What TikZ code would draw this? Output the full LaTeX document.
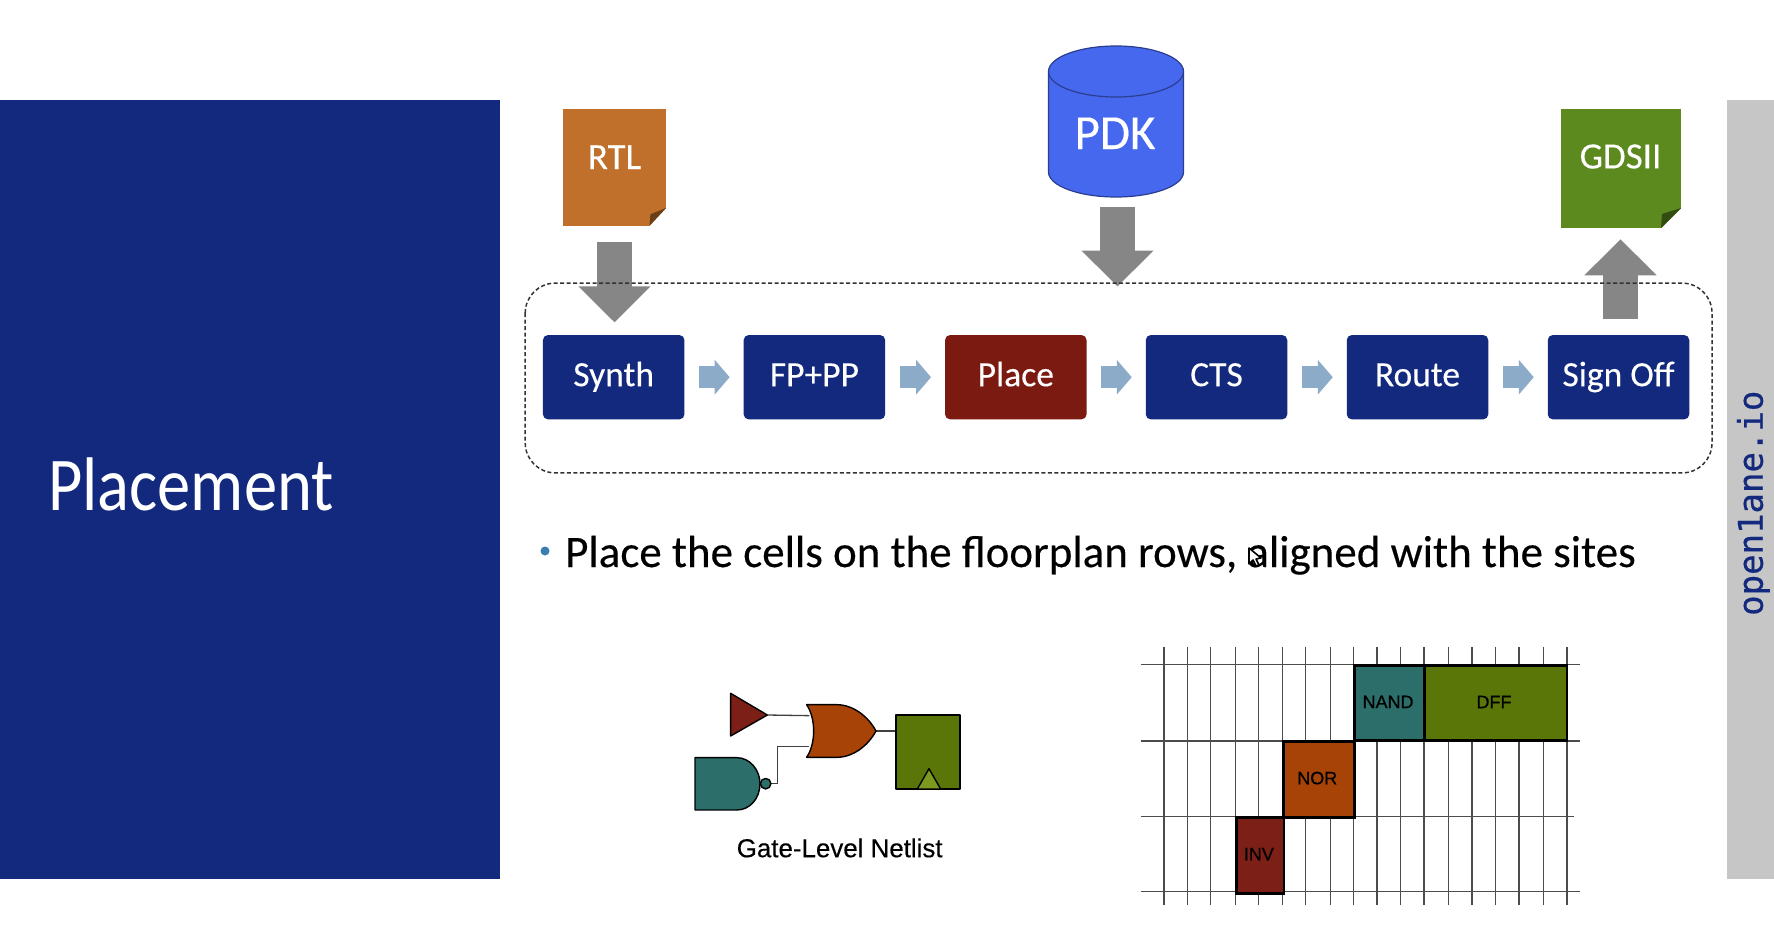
\documentclass[tikz,border=0pt]{standalone}
\usepackage{fontspec}
\setmainfont[FakeBold=0.25]{Carlito}
\newfontfamily\titlefam{Carlito}
\newfontfamily\arialfam[FakeBold=0.35]{Liberation Sans}
\newfontfamily\cellfam[FakeBold=0.7]{Liberation Sans}
\newfontfamily\monofam[FakeBold=0.6]{DejaVu Sans Mono}
\usetikzlibrary{arrows.meta}
\definecolor{navy}{HTML}{12297D}
\definecolor{placered}{HTML}{7A1A10}
\definecolor{rtlc}{HTML}{C0702A}
\definecolor{pdkc}{HTML}{4668EE}
\definecolor{gdsc}{HTML}{5C8A1E}
\definecolor{grayarrow}{HTML}{868686}
\definecolor{smallarrow}{HTML}{8CABC8}
\definecolor{barc}{HTML}{C6C6C6}
\definecolor{orc}{HTML}{A84308}
\definecolor{tealc}{HTML}{2B6E6A}
\definecolor{dffc}{HTML}{5A7508}
\definecolor{clkc}{HTML}{7B9A1E}
\definecolor{invc}{HTML}{7C1F16}
\definecolor{bulletc}{HTML}{3A7DB0}
\newcommand{\fsz}[1]{\fontsize{#1pt}{#1pt}\selectfont}
\tikzset{
  x=1pt,y=-1pt,
  stage/.style={rounded corners=5pt,fill=navy,text=white,minimum width=141.5pt,minimum height=84.3pt,inner sep=0pt,font=\fsz{35.5},text height=24pt,text depth=6pt},
  doc/.style={inner sep=0pt,text=white,font=\fsz{37},text height=24pt},
  bigarrow/.style={draw=grayarrow,line width=35pt,-{Triangle[length=36pt,width=70pt,fill=grayarrow]}},
  flowarrow/.style={draw=smallarrow,line width=22pt,-{Triangle[length=15pt,width=34pt,fill=smallarrow]},shorten <=14.6pt,shorten >=13.8pt},
  gate/.style={draw=black,line width=1.4pt,line join=round},
  wire/.style={draw=black!75,line width=1.3pt},
  celltext/.style={inner sep=0pt,font=\cellfam\fsz{18},text=black},
  cellbox/.style={draw=black,line width=2.8pt,inner sep=0pt},
  gridline/.style={draw=black!70,line width=1.6pt},
}
\begin{document}
\begin{tikzpicture}
\useasboundingbox (0,0) rectangle (1774,929);
\fill[white] (0,0) rectangle (1774,929);
% side panels
\node[fill=navy,minimum width=500pt,minimum height=779pt,inner sep=0pt,anchor=north west] (panel) at (0,100) {};
\node[fill=barc,minimum width=47pt,minimum height=779pt,inner sep=0pt,anchor=north west] (bar) at (1727,100) {};
\node[anchor=base west,inner sep=0pt,text=white,font=\titlefam\fsz{76}] (title) at (48,510) {\scalebox{0.875}[1]{Placement}};
\node[anchor=base west,rotate=90,inner sep=0pt,text=navy,font=\monofam\fsz{34}] (brand) at (1762.7,616) {open1ane.io};
% flow stages
\node[stage] (synth) at (613.7,377.2) {Synth};
\node[stage] (fp) at (814.4,377.2) {FP+PP};
\node[stage,fill=placered] (place) at (1015.8,377.2) {Place};
\node[stage] (cts) at (1216.5,377.2) {CTS};
\node[stage] (route) at (1417.5,377.2) {Route};
\node[stage] (signoff) at (1618.5,377.2) {Sign Off};
\node[inner sep=0pt,minimum width=1186.4pt,minimum height=189.4pt] (flow) at (1118.6,378) {};
% documents
\node[doc,fill=rtlc,minimum width=103pt,minimum height=117pt,text depth=20.4pt] (rtl) at (614.5,167.2) {RTL};
\fill[white] (666.5,208) -- (666.5,226.2) -- (649.5,226.2) -- cycle;
\fill[rtlc!55!black] (666,208) -- (649.5,225.7) -- (650.4,214.3) -- cycle;
\node[doc,fill=gdsc,minimum width=120pt,minimum height=119.3pt,text depth=24pt] (gds) at (1620.5,168.4) {GDSII};
\fill[white] (1681.5,208) -- (1681.5,228.5) -- (1661,228.5) -- cycle;
\fill[gdsc!55!black] (1681,208) -- (1661,228) -- (1662,214) -- cycle;
% PDK cylinder
\draw[fill=pdkc,draw=pdkc!60!black,line width=1.2pt] (1048.5,71.5) -- (1048.5,172) arc[start angle=180,end angle=360,x radius=67.5pt,y radius=25pt] -- (1183.5,71.5) arc[start angle=0,end angle=180,x radius=67.5pt,y radius=25.5pt] -- cycle;
\draw[draw=pdkc!60!black,line width=1.2pt] (1048.5,71.5) arc[start angle=180,end angle=360,x radius=67.5pt,y radius=25.5pt];
\node[inner sep=0pt,minimum width=135pt,minimum height=151pt,text=white,font=\fsz{49},text height=55pt,text depth=0pt] (pdk) at (1115,121.5) {PDK};
% connectors
\draw[bigarrow,shorten <=9.7pt,shorten >=-3.4pt] ([xshift=2.5pt]pdk.south) -- ([xshift=2.5pt]pdk.south |- flow.north);
\draw[bigarrow,shorten <=16.5pt,shorten >=12.5pt] (rtl.south) -- (rtl.south |- synth.north);
\draw[bigarrow,shorten <=16pt,shorten >=11pt] (gds.south |- signoff.north) -- (gds.south);
\draw[flowarrow] (synth) -- (fp);
\draw[flowarrow] (fp) -- (place);
\draw[flowarrow] (place) -- (cts);
\draw[flowarrow] (cts) -- (route);
\draw[flowarrow] (route) -- (signoff);
\draw[draw=black!80,line width=1.5pt,dash pattern=on 4pt off 2.5pt,rounded corners=30pt] (flow.north west) rectangle (flow.south east);
% bullet
\node[circle,fill=bulletc,inner sep=0pt,minimum size=9pt] (bullet) at (545,551) {};
\node[anchor=base west,inner sep=0pt,font=\fsz{45},text=black] (line) at (565,567) {Place the cells on the floorplan rows, aligned with the sites};
\draw[fill=white,draw=black,line width=1.6pt,line join=round] (1249,548) -- (1249,564) -- (1253,560) -- (1256,566) -- (1259,565) -- (1256,559) -- (1261,558) -- cycle;
% netlist gates
\begin{scope}[shift={(670,670)},x=0.3333pt,y=-0.3333pt]
\coordinate (bufout) at (292,135);
\coordinate (orinA) at (418,137);
\coordinate (orinB) at (418,230);
\coordinate (orout) at (618,183);
\coordinate (dffin) at (680,183);
\coordinate (bubout) at (303,341);
\draw[wire] (bufout) -- (orinA);
\draw[wire] (bubout) -- (323,341) |- (orinB);
\draw[wire] (orout) -- (dffin);
\draw[gate,fill=invc] (182,70) -- (bufout) -- (182,198) -- cycle;
\draw[gate,fill=orc] (410,104) -- (500,104) .. controls (550,104) and (595,140) .. (orout) .. controls (595,226) and (550,262) .. (500,262) -- (410,262) .. controls (438,220) and (438,146) .. (410,104) -- cycle;
\draw[gate,fill=dffc] (678,135) rectangle (870,357);
\draw[gate,fill=clkc] (742,357) -- (777,296) -- (812,357) -- cycle;
\draw[gate,fill=tealc] (75,263) -- (200,263) .. controls (240,263) and (270,300) .. (270,341) .. controls (270,385) and (240,420) .. (200,420) -- (75,420) -- cycle;
\node[circle,gate,fill=tealc,inner sep=0pt,minimum size=10.5pt] (bubble) at (287,341) {};
\end{scope}
\node[anchor=base,inner sep=0pt,font=\arialfam\fsz{25.9}] (netlist) at (839.7,857.2) {Gate-Level Netlist};
% placement grid
\foreach \gx in {132,202,272,346,416,488,557,631,701,771,842,912,986,1056,1127,1197,1271,1341}
  \draw[gridline] ({1120+\gx/3},647) -- ({1120+\gx/3},905);
\foreach \gy/\gr in {664.3/1580,740.7/1580,816.3/1574,891.3/1580}
  \draw[gridline] (1140.7,\gy) -- (\gr,\gy);
\node[cellbox,fill=tealc,minimum width=70.3pt,minimum height=75pt,anchor=north west] (nand) at (1353,664) {};
\node[celltext] (nandt) at ([xshift=-1.5pt,yshift=1pt]nand) {NAND};
\node[cellbox,fill=dffc,minimum width=142.3pt,minimum height=75pt,anchor=north west] (dff) at (1423.3,664) {};
\node[celltext] (dfft) at (1494,702) {DFF};
\node[cellbox,fill=orc,minimum width=71.3pt,minimum height=76pt,anchor=north west] (nor) at (1281.7,739.7) {};
\node[celltext] (nort) at ([xshift=-1.5pt,yshift=1pt]nor) {NOR};
\node[cellbox,fill=invc,minimum width=47.3pt,minimum height=76pt,anchor=north west] (inv) at (1235.3,815.7) {};
\node[celltext] (invt) at ([xshift=-1.5pt,yshift=1pt]inv) {INV};
\end{tikzpicture}
\end{document}
